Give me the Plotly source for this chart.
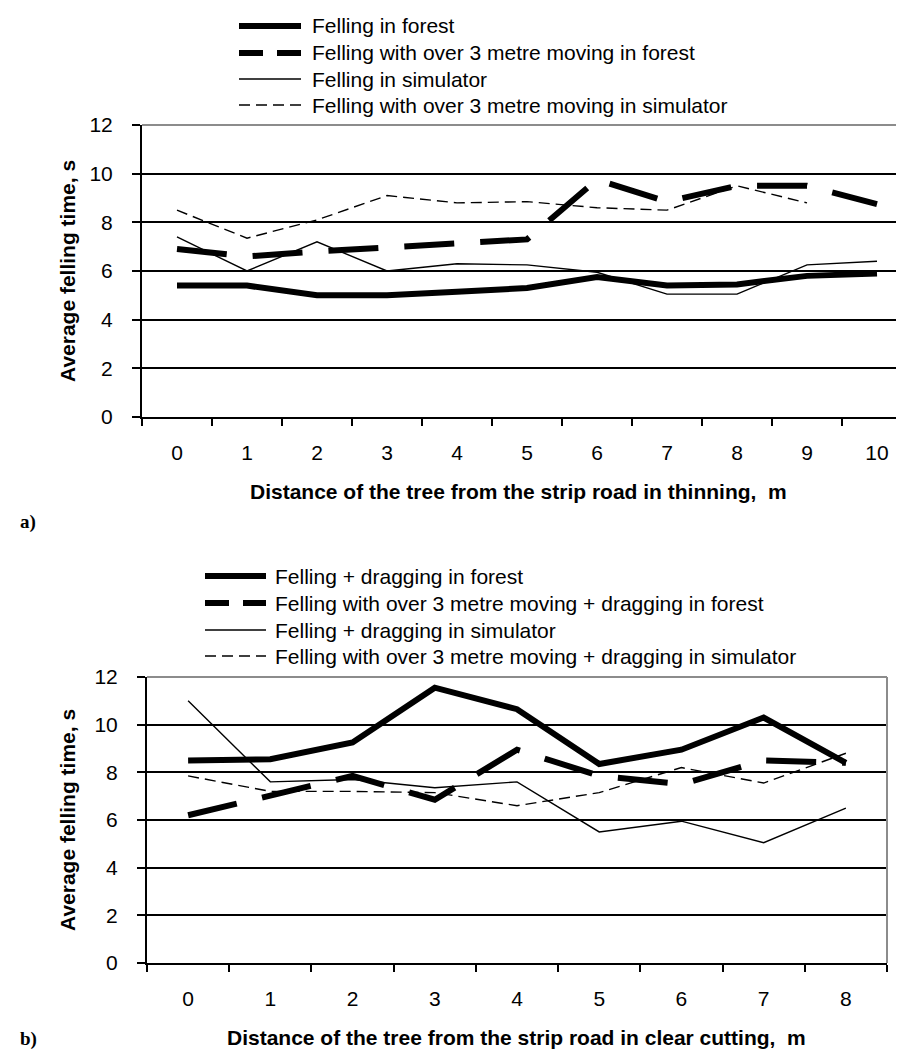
import plotly.graph_objects as go

W, H = 904, 1052

# ---------- data ----------
dist_a = ["0", "1", "2", "3", "4", "5", "6", "7", "8", "9", "10"]
forest_a = [5.4, 5.4, 5.0, 5.0, 5.15, 5.3, 5.75, 5.4, 5.45, 5.8, 5.9]
forest_move_a = [6.9, 6.6, 6.8, 6.95, 7.15, 7.3, 9.75, 8.85, 9.5, 9.5, 8.75]
sim_a = [7.4, 6.0, 7.2, 6.0, 6.3, 6.25, 5.95, 5.05, 5.05, 6.25, 6.4]
sim_move_a = [8.5, 7.35, 8.1, 9.1, 8.8, 8.85, 8.6, 8.5, 9.5, 8.8, None]

dist_b = ["0", "1", "2", "3", "4", "5", "6", "7", "8"]
forest_b = [8.5, 8.55, 9.25, 11.55, 10.65, 8.35, 8.95, 10.3, 8.4]
forest_move_b = [6.2, 7.0, 7.85, 6.85, 8.95, 7.85, 7.5, 8.5, 8.4]
sim_b = [11.0, 7.6, 7.7, 7.35, 7.6, 5.5, 5.95, 5.05, 6.5]
sim_move_b = [7.85, 7.2, 7.2, 7.15, 6.6, 7.15, 8.2, 7.55, 8.8]

names_a = ["Felling in forest",
           "Felling with over 3 metre moving in forest",
           "Felling in simulator",
           "Felling with over 3 metre moving in simulator"]
names_b = ["Felling + dragging in forest",
           "Felling with over 3 metre moving + dragging in forest",
           "Felling + dragging in simulator",
           "Felling with over 3 metre moving + dragging in simulator"]

yticks = [0, 2, 4, 6, 8, 10, 12]
y_title = "Average felling time, s"
x_title_a = "Distance of the tree from the strip road in thinning,  m"
x_title_b = "Distance of the tree from the strip road in clear cutting,  m"

# ---------- styles ----------
FONT = "Liberation Sans, Arial, sans-serif"
styles = [
    dict(color="black", width=6, dash="solid"),
    dict(color="black", width=6, dash="50px,26px"),
    dict(color="black", width=1.4, dash="solid"),
    dict(color="black", width=1.4, dash="11px,6px"),
]
legend_dash = ["solid", "24px,14px", "solid", "11px,6px"]

fig = go.Figure()

for i, (vals, nm) in enumerate(zip([forest_a, forest_move_a, sim_a, sim_move_a], names_a)):
    fig.add_trace(go.Scatter(x=dist_a, y=vals, name=nm, mode="lines",
                             line=styles[i], xaxis="x", yaxis="y",
                             showlegend=False, connectgaps=False))
for i, (vals, nm) in enumerate(zip([forest_b, forest_move_b, sim_b, sim_move_b], names_b)):
    fig.add_trace(go.Scatter(x=dist_b, y=vals, name=nm, mode="lines",
                             line=styles[i], xaxis="x2", yaxis="y2",
                             showlegend=False))


def px_x(p):
    return p / W


def px_y(p):
    return 1 - p / H


# plot areas (pixels)
A = dict(l=134, r=904, t=117, b=409)
B = dict(l=139, r=879, t=669, b=955)

xax = dict(type="category", tickson="boundaries", ticks="outside", ticklen=7,
           tickwidth=1.5, tickcolor="black", showline=True, linecolor="black",
           linewidth=2, showgrid=False, zeroline=False, automargin=False,
           tickfont=dict(family=FONT, size=21, color="black"),
           ticklabelstandoff=16)
yax = dict(range=[0, 12], tickvals=yticks, ticks="outside", ticklen=8,
           tickwidth=1.5, tickcolor="black", showline=True, linecolor="black",
           linewidth=2, showgrid=True, gridcolor="black", gridwidth=1.8,
           zeroline=False, automargin=False,
           tickfont=dict(family=FONT, size=21, color="black"),
           ticklabelstandoff=15)

fig.update_layout(
    width=W, height=H,
    margin=dict(l=0, r=0, t=0, b=0, autoexpand=False),
    paper_bgcolor="white", plot_bgcolor="white",
    font=dict(family=FONT, color="black"),
    showlegend=False,
    xaxis=dict(xax, domain=[px_x(A["l"]), px_x(A["r"])], anchor="y",
               range=[-0.5, len(dist_a) - 0.5]),
    yaxis=dict(yax, domain=[px_y(A["b"]), px_y(A["t"])], anchor="x"),
    xaxis2=dict(xax, domain=[px_x(B["l"]), px_x(B["r"])], anchor="y2",
                range=[-0.5, len(dist_b) - 0.5]),
    yaxis2=dict(yax, domain=[px_y(B["b"]), px_y(B["t"])], anchor="x2"),
)

# gray top / right frame lines
for xr, yr in [("x domain", "y domain"), ("x2 domain", "y2 domain")]:
    fig.add_shape(type="line", xref=xr, yref=yr, x0=0, x1=1, y0=1, y1=1,
                  line=dict(color="#8c8c8c", width=2), layer="above")
    fig.add_shape(type="line", xref=xr, yref=yr, x0=1, x1=1, y0=0, y1=1,
                  line=dict(color="#8c8c8c", width=2), layer="above")

# legends (sample line + text) for both panels
LEG_FONT = dict(family=FONT, size=21, color="black")
leg_cfg = [
    (names_a, 231, 293, 302, [18, 45, 71, 97]),
    (names_b, 197, 258, 265, [568, 595, 622, 648]),
]
for names, lx0, lx1, tx, rows in leg_cfg:
    for i, (nm, ry) in enumerate(zip(names, rows)):
        fig.add_shape(type="line", xref="paper", yref="paper",
                      x0=px_x(lx0), x1=px_x(lx1), y0=px_y(ry), y1=px_y(ry),
                      line=dict(color="black", width=styles[i]["width"],
                                dash=legend_dash[i]))
        fig.add_annotation(xref="paper", yref="paper", x=px_x(tx), y=px_y(ry),
                           text=nm, showarrow=False, xanchor="left",
                           yanchor="middle", font=LEG_FONT)

TITLE = dict(family=FONT, size=21, color="black")
LAB = dict(family="Liberation Serif, serif", size=19, color="black")
ann = [
    dict(text="<b>%s</b>" % y_title, x=px_x(59), y=px_y((A["t"] + A["b"]) / 2),
         textangle=-90, font=TITLE),
    dict(text="<b>%s</b>" % x_title_a, x=px_x(511), y=px_y(483), font=TITLE),
    dict(text="<b>a)</b>", x=px_x(20), y=px_y(514), font=LAB),
    dict(text="<b>%s</b>" % y_title, x=px_x(59), y=px_y((B["t"] + B["b"]) / 2),
         textangle=-90, font=TITLE),
    dict(text="<b>%s</b>" % x_title_b, x=px_x(508), y=px_y(1029), font=TITLE),
    dict(text="<b>b)</b>", x=px_x(20), y=px_y(1031), font=LAB),
]
for a in ann:
    fig.add_annotation(xref="paper", yref="paper", showarrow=False,
                       xanchor="center", yanchor="middle", **a)

fig.write_html("out.html")
